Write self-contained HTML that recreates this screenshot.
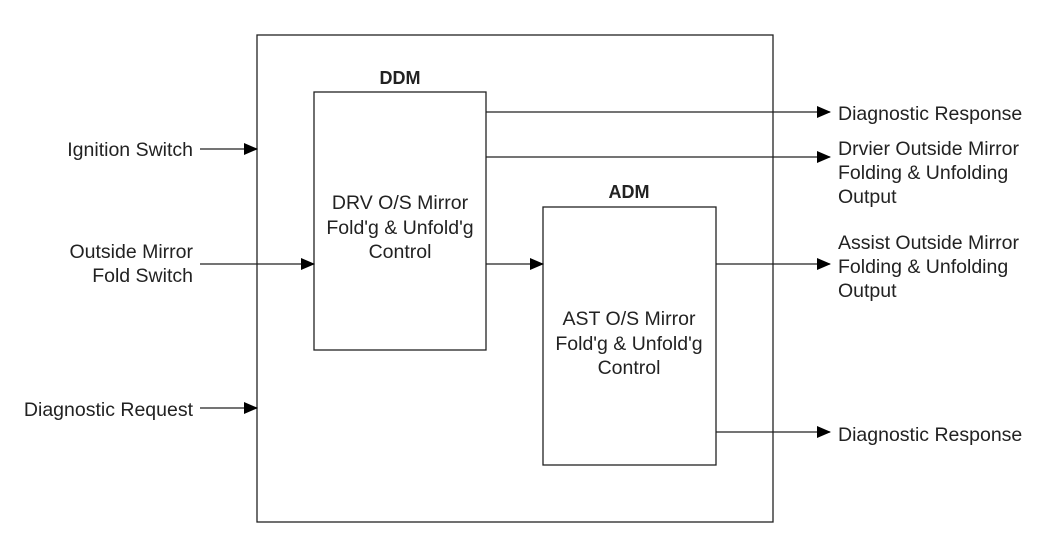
<!DOCTYPE html>
<html><head><style>body{margin:0;background:#fff}svg{display:block}text{font-family:"Liberation Sans",Arial,sans-serif;font-size:19.5px;fill:#222}</style></head>
<body>
<svg width="1050" height="558" viewBox="0 0 1050 558">
<defs><marker id="a" markerWidth="14" markerHeight="12" refX="13" refY="6" orient="auto" markerUnits="userSpaceOnUse"><path d="M0,0 L14,6 L0,12 z" fill="#000"/></marker></defs>
<g fill="none" stroke="#222" stroke-width="1.3">
<rect x="257" y="35" width="516" height="487"/>
<rect x="314" y="92" width="172" height="258"/>
<rect x="543" y="207" width="173" height="258"/>
</g>
<g stroke="#222" stroke-width="1.3" marker-end="url(#a)">
<line x1="200" y1="149" x2="257" y2="149"/>
<line x1="200" y1="264" x2="314" y2="264"/>
<line x1="200" y1="408" x2="257" y2="408"/>
<line x1="486" y1="112" x2="830" y2="112"/>
<line x1="486" y1="157" x2="830" y2="157"/>
<line x1="486" y1="264" x2="543" y2="264"/>
<line x1="716" y1="264" x2="830" y2="264"/>
<line x1="716" y1="432" x2="830" y2="432"/>
</g>
<text x="400" y="84" text-anchor="middle" style="font-weight:bold;font-size:18px">DDM</text>
<text x="629" y="198" text-anchor="middle" style="font-weight:bold;font-size:18px">ADM</text>
<g text-anchor="middle">
<text x="400" y="209">DRV O/S Mirror</text>
<text x="400" y="234">Fold'g &amp; Unfold'g</text>
<text x="400" y="258">Control</text>
<text x="629" y="325">AST O/S Mirror</text>
<text x="629" y="350">Fold'g &amp; Unfold'g</text>
<text x="629" y="374">Control</text>
</g>
<g text-anchor="end">
<text x="193" y="156">Ignition Switch</text>
<text x="193" y="258">Outside Mirror</text>
<text x="193" y="282">Fold Switch</text>
<text x="193" y="416">Diagnostic Request</text>
</g>
<text x="838" y="120">Diagnostic Response</text>
<text x="838" y="155">Drvier Outside Mirror</text>
<text x="838" y="179">Folding &amp; Unfolding</text>
<text x="838" y="203">Output</text>
<text x="838" y="249">Assist Outside Mirror</text>
<text x="838" y="273">Folding &amp; Unfolding</text>
<text x="838" y="297">Output</text>
<text x="838" y="441">Diagnostic Response</text>
</svg>
</body></html>
